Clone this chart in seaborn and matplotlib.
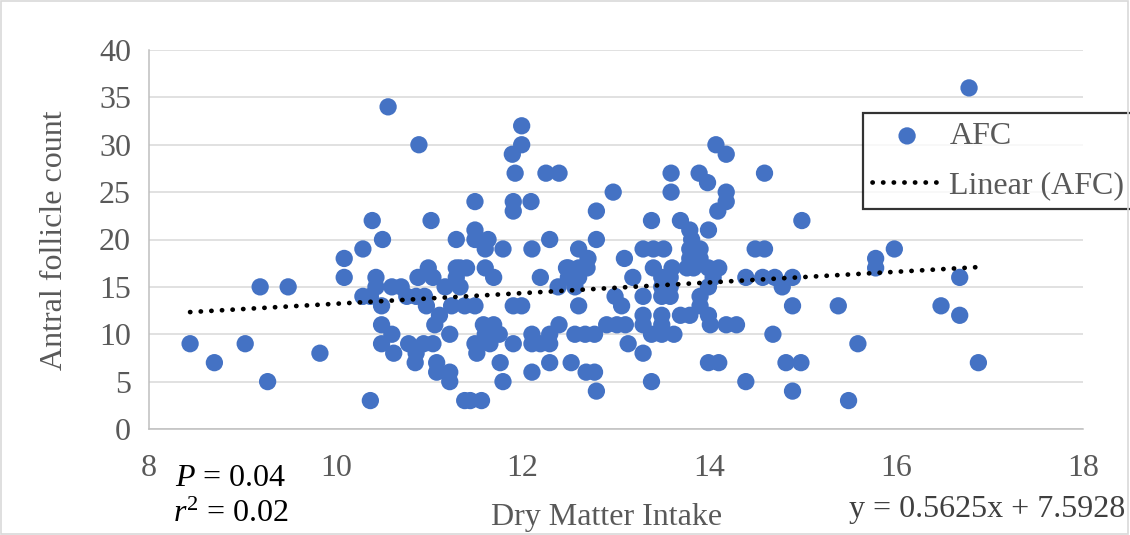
import numpy as np
import pandas as pd
import matplotlib
matplotlib.use("Agg")
import matplotlib.pyplot as plt
import seaborn as sns
from matplotlib.patches import Rectangle

# ---- data ----
dmi = [8.44, 8.70, 9.03, 9.19, 9.27, 9.49, 9.83, 10.09, 10.09,
       10.29, 10.29, 10.37, 10.39, 10.43, 10.43, 10.37, 10.50, 10.49, 10.49, 10.60, 10.49, 10.62, 10.56,
       10.60, 10.70, 10.76, 10.88, 10.99, 11.04, 10.86, 10.95, 10.97, 10.89, 10.78, 10.86, 10.94, 11.04, 10.85, 11.02,
       11.17, 11.29, 11.29, 11.24, 11.11, 11.06, 11.22, 11.08, 11.08, 11.22, 11.22, 11.29, 11.33, 11.40, 11.33, 11.38,
       11.38, 11.49, 11.49, 11.49, 11.49, 11.49, 11.51, 11.44,
       11.63, 11.60, 11.60, 11.69, 11.58, 11.69, 11.60, 11.75, 11.65, 11.56, 11.79, 11.76, 11.79, 11.90, 11.89, 11.92,
       11.90, 11.99, 11.99, 11.90, 11.99, 11.90,
       12.10, 12.29, 12.19, 12.09, 12.25, 12.39, 12.10, 12.10, 12.19, 12.29, 12.29, 12.39, 12.10, 12.29, 12.47, 12.38,
       12.49, 12.49, 12.56, 12.52,
       12.60, 12.70, 12.60, 12.69, 12.60, 12.60, 12.56, 12.67, 12.77, 12.68, 12.77, 12.79, 12.79, 12.79, 12.97, 12.90, 12.99,
       13.01, 13.10, 13.06, 13.09, 13.13, 13.18, 13.29, 13.40, 13.51, 13.38, 13.40, 13.29, 13.29, 13.29, 13.29, 13.38,
       13.49, 13.49, 13.49, 13.49, 13.49, 13.38, 13.49,
       13.58, 13.58, 13.58, 13.59, 13.59, 13.60, 13.62, 13.69, 13.69, 13.79, 13.81, 13.79, 13.79, 13.76, 13.83, 13.79,
       13.90, 13.90, 13.90, 13.90, 13.89, 13.98, 13.99, 13.99, 13.99, 13.99, 14.01, 13.99,
       14.04, 14.09, 14.10, 14.10, 14.07, 14.18, 14.18, 14.18, 14.18, 14.29, 14.39, 14.39, 14.49,
       14.57, 14.59, 14.59, 14.70, 14.78, 14.89, 14.89, 14.68, 14.82, 14.98, 14.89, 14.99, 15.38, 15.49, 15.59,
       15.78, 15.78, 15.98, 16.48, 16.68, 16.68, 16.78, 16.88]
afc = [9, 7, 9, 15, 5, 15, 8, 18, 16,
       19, 14, 14, 22, 16, 15, 3, 20, 13, 11, 10, 9, 8, 34,
       15, 15, 14, 16, 17, 16, 14, 14, 13, 30, 9, 8, 9, 9, 7, 22,
       15, 17, 16, 13, 12, 11, 10, 7, 6, 6, 5, 20, 17, 17, 15, 13,
       3, 21, 20, 24, 13, 9, 8, 3,
       20, 19, 17, 16, 11, 11, 10, 10, 9, 3, 19, 7, 5, 23, 29, 27,
       24, 30, 32, 13, 13, 9,
       19, 20, 16, 24, 27, 27, 10, 9, 9, 10, 9, 11, 6, 7, 17, 15,
       17, 16, 15, 7,
       19, 18, 17, 17, 16, 13, 10, 10, 10, 6, 6, 4, 23, 20, 25, 11, 14,
       11, 11, 13, 18, 9, 16, 19, 19, 19, 22, 17, 14, 12, 11, 8, 10,
       10, 12, 11, 15, 14, 5, 16,
       16, 15, 14, 27, 25, 17, 10, 22, 12, 21, 20, 19, 18, 17, 17, 12,
       19, 18, 14, 13, 27, 26, 21, 17, 15, 12, 11, 7,
       16, 23, 17, 7, 30, 29, 25, 24, 11, 11, 16, 5, 19,
       16, 19, 27, 16, 15, 16, 13, 10, 7, 7, 4, 22, 13, 3, 9,
       18, 17, 19, 13, 16, 12, 36, 7]

trend_slope = 0.5625
trend_intercept = 7.5928
x_ticks = [8, 10, 12, 14, 16, 18]
y_ticks = [0, 5, 10, 15, 20, 25, 30, 35, 40]

df = pd.DataFrame({"Dry Matter Intake": dmi, "Antral follicle count": afc})
trend_x = np.array([min(dmi), max(dmi)])
trend_df = pd.DataFrame({"x": trend_x, "y": trend_slope * trend_x + trend_intercept})

# ---- style ----
sns.set_theme(style="white")
plt.rcParams["font.family"] = ["Liberation Serif", "DejaVu Serif"]
plt.rcParams["mathtext.fontset"] = "custom"
plt.rcParams["mathtext.rm"] = "Liberation Serif"
plt.rcParams["mathtext.it"] = "Liberation Serif:italic"

GRAY_TXT = "#595959"
BLUE = "#4472C4"
FS = 23

fig = plt.figure(figsize=(11.3, 5.35), dpi=100)
ax = fig.add_axes([149 / 1130, 1 - 429 / 535, (1083 - 149) / 1130, (429 - 50) / 535])

sns.scatterplot(data=df, x="Dry Matter Intake", y="Antral follicle count", ax=ax,
                color=BLUE, s=155, edgecolor="none", linewidth=0, label="AFC", zorder=3)
sns.lineplot(data=trend_df, x="x", y="y", ax=ax, color="black", lw=3.4,
             linestyle=(0, (0.05, 2.2)), label="Linear (AFC)", zorder=4)
for l in ax.get_lines():
    l.set_dash_capstyle("round")

ax.set_xlim(8, 18)
ax.set_ylim(0, 40)
ax.set_xticks(x_ticks)
ax.set_yticks(y_ticks)
ax.grid(axis="y", color="#d9d9d9", lw=1.1)
ax.grid(axis="x", visible=False)
ax.set_axisbelow(True)
for s in ["top", "right"]:
    ax.spines[s].set_visible(False)
for s in ["left", "bottom"]:
    ax.spines[s].set_color("#bfbfbf")
    ax.spines[s].set_linewidth(1.1)

ax.tick_params(axis="both", length=0, labelsize=FS, labelcolor=GRAY_TXT)
ax.tick_params(axis="x", pad=18)
ax.tick_params(axis="y", pad=13)

ax.set_xlabel("")
ax.set_ylabel("")
fig.text(607 / 1130, 1 - 518 / 535, "Dry Matter Intake", ha="center", va="center",
         fontsize=FS, color=GRAY_TXT)
fig.text(55 / 1130, 1 - 240 / 535, "Antral follicle count", ha="center", va="center",
         rotation=90, fontsize=FS, color=GRAY_TXT)

fig.text(175 / 1130, 1 - 478 / 535, "$P$ = 0.04", ha="left", va="center", fontsize=FS, color="black")
fig.text(173 / 1130, 1 - 514 / 535, "$r^2$ = 0.02", ha="left", va="center", fontsize=FS, color="black")
fig.text(1125 / 1130, 1 - 509 / 535, "y = 0.5625x + 7.5928", ha="right", va="center",
         fontsize=FS, color="#404040")

leg = ax.legend(loc="upper left", bbox_to_anchor=(863 / 1130, 1 - 113 / 535),
                bbox_transform=fig.transFigure, frameon=True, fancybox=False,
                fontsize=FS, handlelength=2.2, handletextpad=0.22, borderpad=0.28,
                labelspacing=0.62, borderaxespad=0)
leg.get_frame().set_edgecolor("black")
leg.get_frame().set_linewidth(1.6)
for t in leg.get_texts():
    t.set_color(GRAY_TXT)
for h in leg.get_lines():
    h.set_dash_capstyle("round")

fig.patches.append(Rectangle((0.001, 0.001), 0.997, 0.997, transform=fig.transFigure,
                             fill=False, edgecolor="#d9d9d9", lw=1.2))

fig.savefig("out.png", dpi=100)
